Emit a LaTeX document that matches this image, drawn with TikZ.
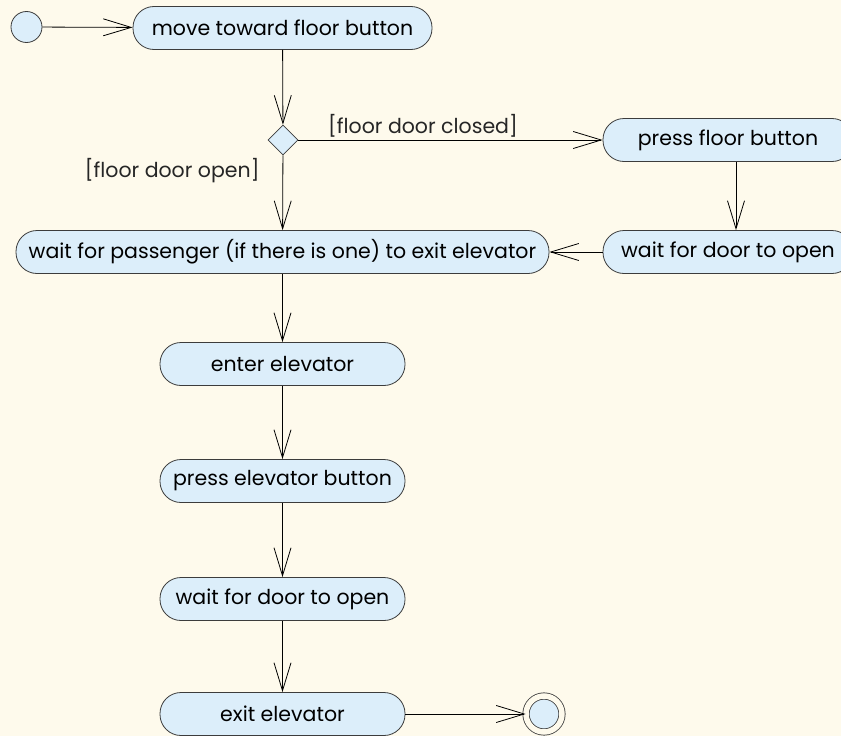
\documentclass[tikz,border=0pt]{standalone}
\usepackage{fontspec}
\setsansfont{Poppins}
\usetikzlibrary{arrows.meta,positioning,shapes.geometric,calc}
\definecolor{umlbg}{HTML}{FEFAEC}
\definecolor{actfill}{HTML}{DCEEFA}
\definecolor{actborder}{HTML}{3C3C3C}

\begin{document}
\begin{tikzpicture}[
  x=1pt, y=-1pt,
  font=\sffamily\fontsize{20.5}{24}\selectfont,
  >={Straight Barb[length=28pt,width=17pt]},
  flow/.style={->, line width=0.8pt, black},
  activity/.style={
    draw=actborder,
    fill=actfill,
    line width=0.8pt,
    rounded corners=21pt,
    minimum height=43pt,
    inner sep=2pt
  },
  guard/.style={inner sep=2pt, text=black!85},
  initial/.style={circle, draw=actborder, fill=actfill, line width=0.8pt, minimum size=31pt, inner sep=0pt},
  final/.style={circle, draw=actborder, fill=actfill, line width=0.8pt, double=umlbg, double distance=5.5pt, minimum size=36pt, inner sep=0pt},
  branch/.style={diamond, draw=actborder, fill=actfill, line width=0.8pt, minimum width=30pt, minimum height=30pt, inner sep=0pt}
]

  % Canvas
  \useasboundingbox (0,0) rectangle (841,736);
  \fill[umlbg] (0,0) rectangle (841,736);

  % Main column
  \node[initial] (start) at (26.5,27) {};
  \node[activity, minimum width=299pt] (moveto) at (282.5,28) {move toward floor button};
  \node[branch] (doorcheck) at (283,140) {};
  \node[activity, minimum width=533pt] (waitpass) at (282.5,252) {wait for passenger (if there is one) to exit elevator};
  \node[activity, minimum width=245pt] (enter) at (282.5,364) {enter elevator};
  \node[activity, minimum width=245pt] (presselev) at (282.5,481) {press elevator button};
  \node[activity, minimum width=245pt] (waitdoor) at (282.5,599) {wait for door to open};
  \node[activity, minimum width=245pt] (exitelev) at (282.5,714) {exit elevator};
  \node[final] (stop) at (544,714) {};

  % Side branch (floor door closed)
  \node[activity, minimum width=250pt] (pressfloor) at (728,140) {press floor button};
  \node[activity, minimum width=250pt] (waitdoorR) at (728,252) {wait for door to open};

  % Transitions
  \draw[flow] (start) -- (moveto);
  \draw[flow] (moveto) -- (doorcheck);
  \draw[flow] (doorcheck) -- (pressfloor)
    node[guard, pos=0.09, anchor=south west] (gclosed) {[floor door closed]};
  \draw[flow] (doorcheck) -- (waitpass)
    node[guard, pos=0.21, left=21pt] (gopen) {[floor door open]};
  \draw[flow] ($(pressfloor.south)+(8,0)$) -- ($(waitdoorR.north)+(8,0)$);
  \draw[flow] (waitdoorR) -- (waitpass);
  \draw[flow] (waitpass) -- (enter);
  \draw[flow] (enter) -- (presselev);
  \draw[flow] (presselev) -- (waitdoor);
  \draw[flow] (waitdoor) -- (exitelev);
  \draw[flow] (exitelev) -- (stop);

\end{tikzpicture}
\end{document}
